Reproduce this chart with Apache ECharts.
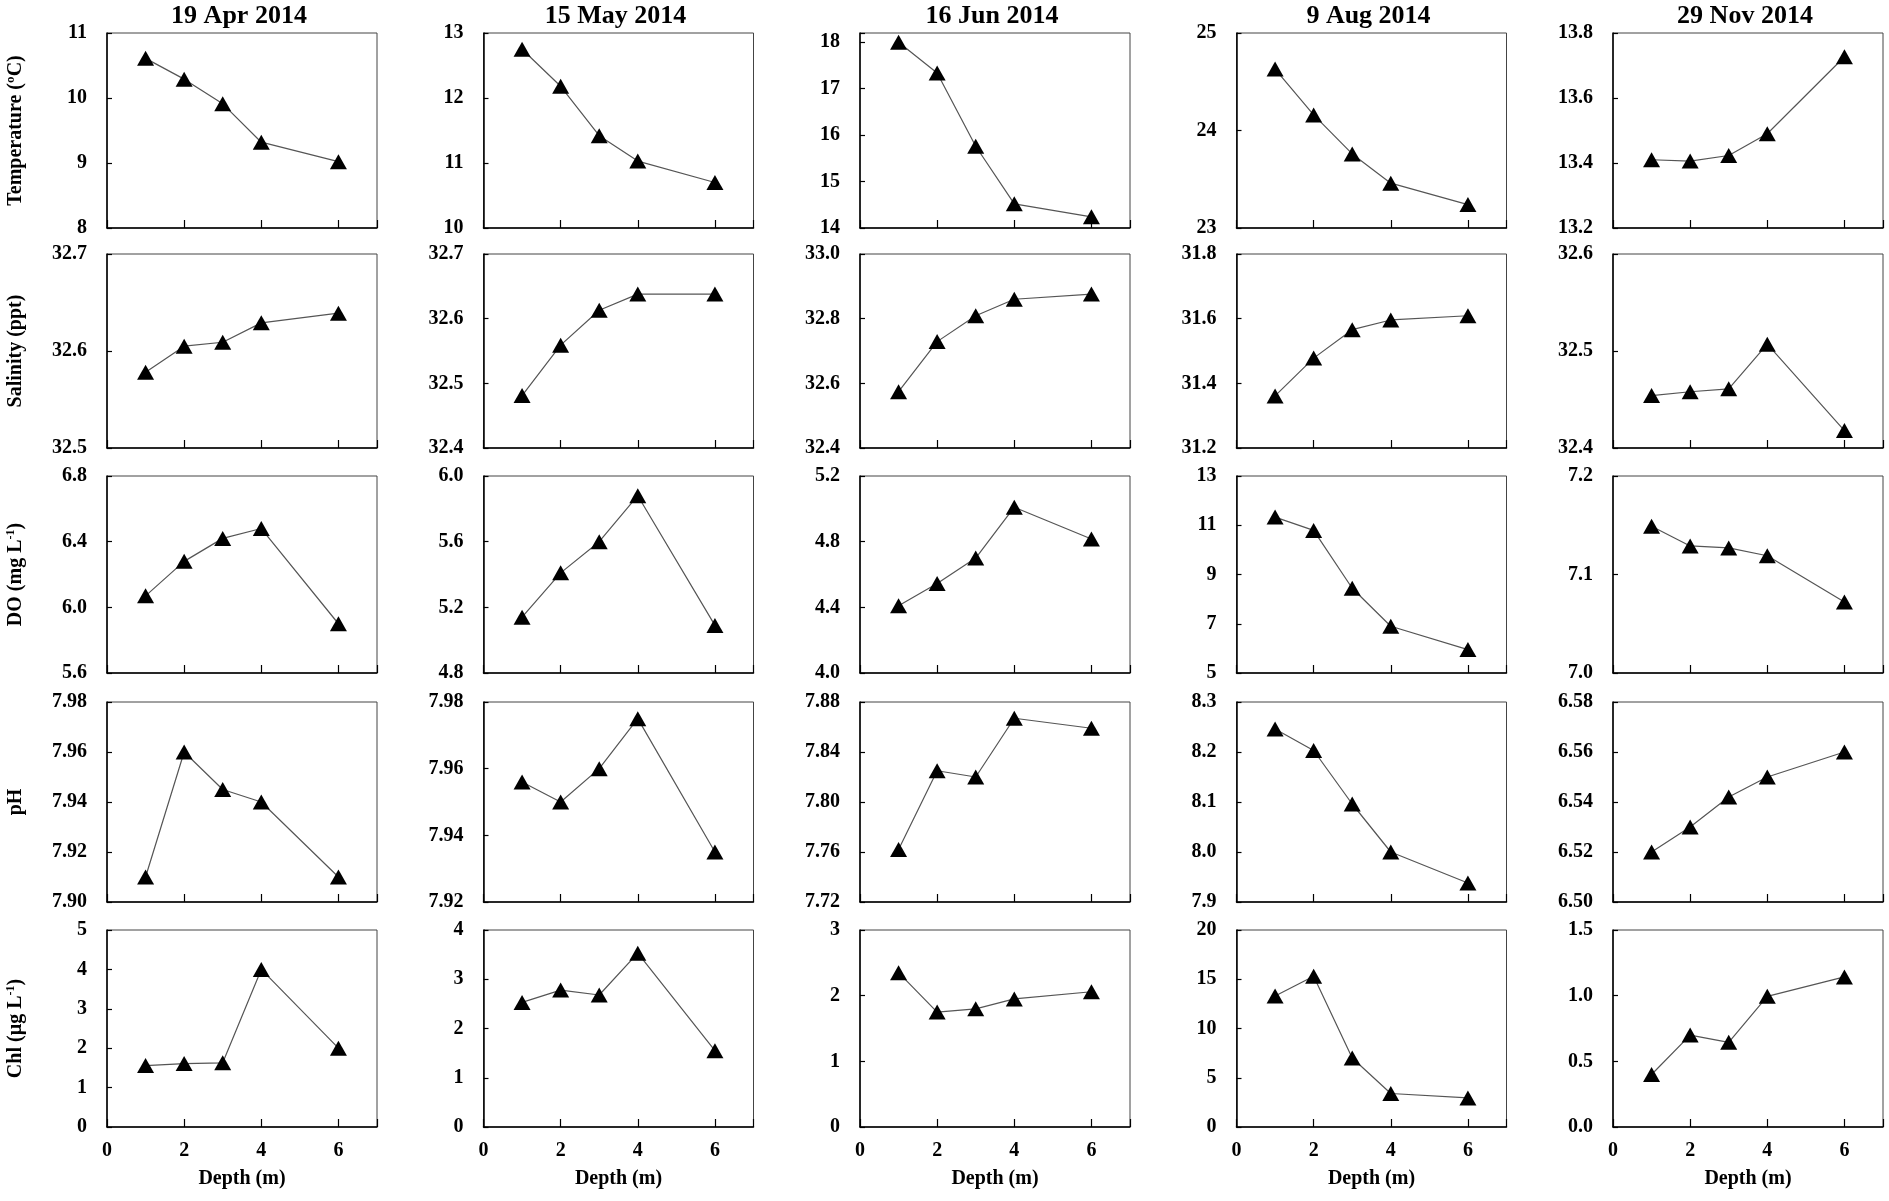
<!DOCTYPE html>
<html>
<head>
<meta charset="utf-8">
<title>Depth profiles 2014</title>
<script src="https://cdn.jsdelivr.net/npm/echarts@6/dist/echarts.min.js"></script>
<style>
  html, body { margin: 0; padding: 0; background: #fff; }
  #chart { width: 1889px; height: 1201px; }
</style>
</head>
<body>
<div id="chart"></div>
<script>
const dates = ['19 Apr 2014', '15 May 2014', '16 Jun 2014', '9 Aug 2014', '29 Nov 2014']
const depths = [1, 2, 3, 4, 6]

// one row per sampling date, values at depths 1, 2, 3, 4, 6 m
const temperature = [
  [10.61, 10.29, 9.91, 9.32, 9.02],
  [12.75, 12.18, 11.42, 11.03, 10.7],
  [18.0, 17.34, 15.76, 14.52, 14.24],
  [24.63, 24.16, 23.76, 23.46, 23.24],
  [13.41, 13.406, 13.423, 13.49, 13.727]
]
const salinity = [
  [32.578, 32.605, 32.609, 32.629, 32.639],
  [32.481, 32.559, 32.613, 32.638, 32.638],
  [32.574, 32.729, 32.809, 32.86, 32.876],
  [31.361, 31.478, 31.566, 31.596, 31.609],
  [32.454, 32.458, 32.461, 32.507, 32.418]
]
const dissolvedOxygen = [
  [6.07, 6.28, 6.42, 6.48, 5.9],
  [5.14, 5.41, 5.6, 5.88, 5.09],
  [4.41, 4.545, 4.7, 5.01, 4.816],
  [11.33, 10.79, 8.44, 6.9, 5.95],
  [7.149, 7.129, 7.127, 7.119, 7.072]
]
const pH = [
  [7.91, 7.96, 7.945, 7.94, 7.91],
  [7.956, 7.95, 7.96, 7.975, 7.935],
  [7.762, 7.825, 7.82, 7.867, 7.859],
  [8.246, 8.203, 8.096, 8.0, 7.938],
  [6.52, 6.53, 6.542, 6.55, 6.56]
]
const chlorophyll = [
  [1.56, 1.61, 1.63, 4.0, 2.0],
  [2.53, 2.78, 2.68, 3.53, 1.55],
  [2.35, 1.75, 1.8, 1.95, 2.06],
  [13.3, 15.3, 7.0, 3.4, 2.95],
  [0.4, 0.7, 0.645, 0.995, 1.143]
]

// y axis per date: [min, max, step, decimals]
const temperatureAxis = [[8, 11, 1, 0], [10, 13, 1, 0], [14, 18.2, 1, 0], [23, 25, 1, 0], [13.2, 13.8, 0.2, 1]]
const salinityAxis = [[32.5, 32.7, 0.1, 1], [32.4, 32.7, 0.1, 1], [32.4, 33.0, 0.2, 1], [31.2, 31.8, 0.2, 1], [32.4, 32.6, 0.1, 1]]
const oxygenAxis = [[5.6, 6.8, 0.4, 1], [4.8, 6.0, 0.4, 1], [4.0, 5.2, 0.4, 1], [5, 13, 2, 0], [7.0, 7.2, 0.1, 1]]
const pHAxis = [[7.90, 7.98, 0.02, 2], [7.92, 7.98, 0.02, 2], [7.72, 7.88, 0.04, 2], [7.9, 8.3, 0.1, 1], [6.50, 6.58, 0.02, 2]]
const chlorophyllAxis = [[0, 5, 1, 0], [0, 4, 1, 0], [0, 3, 1, 0], [0, 20, 5, 0], [0, 1.5, 0.5, 1]]
const depthTicks = [0, 2, 4, 6]

const variables = [
  { name: '{n|Temperature (ºC)}', values: temperature, axis: temperatureAxis },
  { name: '{n|Salinity (ppt)}', values: salinity, axis: salinityAxis },
  { name: '{n|DO (mg L}{s|-1}{n|)}', values: dissolvedOxygen, axis: oxygenAxis },
  { name: '{n|pH}', values: pH, axis: pHAxis },
  { name: '{n|Chl (µg L}{s|-1}{n|)}', values: chlorophyll, axis: chlorophyllAxis }
]

const FONT = "'Liberation Serif', 'Times New Roman', serif"
const lefts = [107, 483.5, 860, 1236.5, 1613]
const tops = [33, 254, 476, 702, 930]
const heights = [195, 194, 197, 200, 197]
const panelWidth = 270

const chart = echarts.init(document.getElementById('chart'))

const grids = []
const xAxes = []
const yAxes = []
const series = []

variables.forEach((v, r) => {
  dates.forEach((d, c) => {
    const idx = grids.length
    const [min, max, step, digits] = v.axis[c]
    const isBottom = r === variables.length - 1

    grids.push({
      left: lefts[c],
      top: tops[r],
      width: panelWidth,
      height: heights[r],
      show: true,
      borderColor: '#444',
      borderWidth: 1
    })

    xAxes.push({
      gridIndex: idx,
      type: 'value',
      min: 0,
      max: 7,
      interval: 2,
      name: isBottom ? 'Depth (m)' : '',
      nameLocation: 'middle',
      nameGap: 42,
      nameTextStyle: { fontFamily: FONT, fontWeight: 'bold', fontSize: 20, color: '#000' },
      axisLine: { lineStyle: { color: '#000', width: 1.5 } },
      axisTick: { inside: true, length: 8, lineStyle: { color: '#000', width: 1.2 } },
      axisLabel: {
        show: isBottom,
        margin: 14,
        fontFamily: FONT,
        fontWeight: 'bold',
        fontSize: 20,
        color: '#000',
        formatter: val => (depthTicks.indexOf(val) >= 0 ? String(val) : '')
      },
      splitLine: { show: false }
    })

    yAxes.push({
      gridIndex: idx,
      type: 'value',
      min: min,
      max: max,
      interval: step,
      name: c === 0 ? v.name : '',
      nameLocation: 'middle',
      nameGap: 80,
      nameTextStyle: {
        rich: {
          n: { fontFamily: FONT, fontWeight: 'bold', fontSize: 20, color: '#000', lineHeight: 22 },
          s: { fontFamily: FONT, fontWeight: 'bold', fontSize: 12, color: '#000', verticalAlign: 'top', lineHeight: 12 }
        }
      },
      axisLine: { show: true, lineStyle: { color: '#000', width: 1.5 } },
      axisTick: { show: true, inside: true, length: 5, lineStyle: { color: '#000', width: 1.2 } },
      axisLabel: {
        margin: 20,
        fontFamily: FONT,
        fontWeight: 'bold',
        fontSize: 20,
        color: '#000',
        formatter: val => {
          const k = (val - min) / step
          if (Math.abs(k - Math.round(k)) > 1e-6) return ''
          return val.toFixed(digits)
        }
      },
      splitLine: { show: false }
    })

    series.push({
      type: 'line',
      xAxisIndex: idx,
      yAxisIndex: idx,
      data: depths.map((x, i) => [x, v.values[c][i]]),
      symbol: 'triangle',
      symbolSize: [17, 15],
      itemStyle: { color: '#000' },
      lineStyle: { color: '#555', width: 1.2 },
      clip: false,
      animation: false
    })
  })
})

const titles = dates.map((d, c) => ({
  text: d,
  left: lefts[c] + panelWidth / 2 - 8,
  top: -2,
  textAlign: 'center',
  textStyle: { fontFamily: FONT, fontWeight: 'bold', fontSize: 26, color: '#000' }
}))

chart.setOption({
  backgroundColor: '#fff',
  animation: false,
  title: titles,
  grid: grids,
  xAxis: xAxes,
  yAxis: yAxes,
  series: series
})
</script>
</body>
</html>
